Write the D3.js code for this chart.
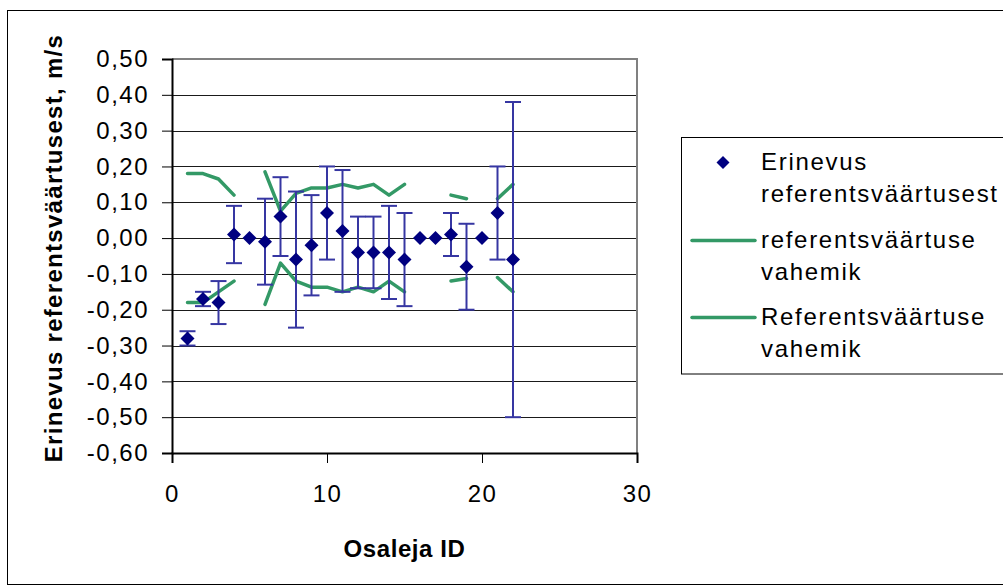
<!DOCTYPE html>
<html>
<head>
<meta charset="utf-8">
<script src="https://cdn.jsdelivr.net/npm/d3@7"></script>
<style>
  body { margin: 0; background: #fff; }
  svg { display: block; font-family: Arial, "Liberation Sans", sans-serif; }
</style>
</head>
<body>
<div id="chart-container"></div>
<script>
// Chart data
const participantIds = [1, 2, 3, 4, 5, 6, 7, 8, 9, 10, 11, 12, 13, 14, 15, 16, 17, 18, 19, 20, 21, 22];
const differences = [-0.28, -0.17, -0.18, 0.01, 0.00, -0.01, 0.06, -0.06, -0.02, 0.07, 0.02, -0.04, -0.04, -0.04, -0.06, 0.00, 0.00, 0.01, -0.08, 0.00, 0.07, -0.06];
const uncertainties = [0.02, 0.02, 0.06, 0.08, 0, 0.12, 0.11, 0.19, 0.14, 0.13, 0.17, 0.10, 0.10, 0.13, 0.13, 0, 0, 0.06, 0.12, 0, 0.13, 0.44];
const upperRange = [0.18, 0.18, 0.165, 0.12, null, 0.185, 0.075, 0.125, 0.14, 0.14, 0.15, 0.14, 0.15, 0.12, 0.15, null, null, 0.12, 0.11, null, 0.11, 0.15];
const lowerRange = [-0.18, -0.18, -0.15, -0.12, null, -0.185, -0.07, -0.12, -0.137, -0.137, -0.15, -0.137, -0.15, -0.12, -0.15, null, null, -0.12, -0.113, null, -0.11, -0.15];
const yTicks = [0.5, 0.4, 0.3, 0.2, 0.1, 0, -0.1, -0.2, -0.3, -0.4, -0.5, -0.6];
const xTicks = [0, 10, 20, 30];
const legendLabels = [
  ["Erinevus", "referentsväärtusest"],
  ["referentsväärtuse", "vahemik"],
  ["Referentsväärtuse", "vahemik"]
];

document.addEventListener('DOMContentLoaded', function() {
  const width = 1003;
  const height = 588;

  const markerColor = "#000080";
  const errorColor = "#3636a2";
  const rangeColor = "#339966";

  // Estonian number format: comma decimal, plain hyphen minus
  const locale = d3.formatLocale({ decimal: ",", thousands: " ", grouping: [3], currency: ["", ""], minus: "-" });
  const fmt = locale.format(".2f");

  const svg = d3.select('#chart-container')
    .append('svg')
    .attr('width', width)
    .attr('height', height);

  // outer chart border
  svg.append('rect')
    .attr('x', 7.5).attr('y', 10.5)
    .attr('width', 1010).attr('height', 574)
    .attr('fill', 'none')
    .attr('stroke', '#000');

  const x = d3.scaleLinear().domain([0, 30]).range([172, 637]);
  const y = d3.scaleLinear().domain([-0.6, 0.5]).range([453, 59]);

  // gridlines
  svg.append('g')
    .selectAll('line')
    .data(yTicks.filter(t => t > -0.6 && t < 0.5))
    .enter()
    .append('line')
    .attr('x1', x(0)).attr('x2', x(30))
    .attr('y1', d => Math.round(y(d)) + 0.5)
    .attr('y2', d => Math.round(y(d)) + 0.5)
    .attr('stroke', '#1a1a1a')
    .attr('stroke-width', 1);

  // plot area border (top and right are grey)
  svg.append('path')
    .attr('d', `M${x(0)},${y(0.5)}H${x(30)}V${y(-0.6)}`)
    .attr('fill', 'none')
    .attr('stroke', '#808080')
    .attr('stroke-width', 2);

  // y axis
  const yAxis = svg.append('g')
    .attr('transform', `translate(${x(0)},0)`)
    .call(d3.axisLeft(y).tickValues(yTicks).tickFormat(fmt).tickSize(10).tickPadding(13));
  yAxis.select('.domain').attr('stroke-width', 2);

  // x axis
  const xAxis = svg.append('g')
    .attr('transform', `translate(0,${y(-0.6)})`)
    .call(d3.axisBottom(x).tickValues(xTicks).tickFormat(d3.format('d')).tickSize(10).tickPadding(22));
  xAxis.select('.domain').attr('stroke-width', 2);

  svg.selectAll('.tick text')
    .attr('font-size', '24px')
    .attr('font-family', 'Arial, "Liberation Sans", sans-serif')
    .attr('letter-spacing', '1.5px')
    .attr('fill', '#000');
  svg.selectAll('.tick line').attr('stroke', '#000');

  // axis titles
  svg.append('text')
    .attr('transform', `translate(62,248) rotate(-90)`)
    .attr('text-anchor', 'middle')
    .attr('font-size', '24px')
    .attr('font-weight', 'bold')
    .attr('letter-spacing', '1.3px')
    .text('Erinevus referentsväärtusest, m/s');

  svg.append('text')
    .attr('x', (x(0) + x(30)) / 2)
    .attr('y', 557)
    .attr('text-anchor', 'middle')
    .attr('font-size', '24px')
    .attr('font-weight', 'bold')
    .attr('letter-spacing', '0.6px')
    .text('Osaleja ID');

  // reference range lines (broken where values are missing)
  const rangeLine = d3.line()
    .defined(d => d.v !== null)
    .x(d => x(d.id))
    .y(d => y(d.v));

  [upperRange, lowerRange].forEach(series => {
    svg.append('path')
      .datum(participantIds.map((id, i) => ({ id: id, v: series[i] })))
      .attr('d', rangeLine)
      .attr('fill', 'none')
      .attr('stroke', rangeColor)
      .attr('stroke-width', 3.5)
      .attr('stroke-linecap', 'round')
      .attr('stroke-linejoin', 'round');
  });

  // error bars
  const points = participantIds.map((id, i) => ({ id: id, v: differences[i], e: uncertainties[i] }));
  const bars = svg.append('g')
    .selectAll('g')
    .data(points.filter(d => d.e > 0))
    .enter()
    .append('g')
    .attr('stroke', errorColor)
    .attr('stroke-width', 2);

  bars.append('line')
    .attr('x1', d => x(d.id)).attr('x2', d => x(d.id))
    .attr('y1', d => y(d.v + d.e)).attr('y2', d => y(d.v - d.e));
  bars.append('line')
    .attr('x1', d => x(d.id) - 8).attr('x2', d => x(d.id) + 8)
    .attr('y1', d => y(d.v + d.e)).attr('y2', d => y(d.v + d.e));
  bars.append('line')
    .attr('x1', d => x(d.id) - 8).attr('x2', d => x(d.id) + 8)
    .attr('y1', d => y(d.v - d.e)).attr('y2', d => y(d.v - d.e));

  // diamond markers
  const diamond = 'M0,-7L7,0L0,7L-7,0Z';
  svg.append('g')
    .selectAll('path')
    .data(points)
    .enter()
    .append('path')
    .attr('d', diamond)
    .attr('transform', d => `translate(${x(d.id)},${y(d.v)})`)
    .attr('fill', markerColor);

  // legend
  const legend = svg.append('g');
  legend.append('rect')
    .attr('x', 681.5).attr('y', 137.5)
    .attr('width', 340).attr('height', 236.5)
    .attr('fill', '#fff')
    .attr('stroke', '#000');

  const rowTops = [170, 248, 325];
  legendLabels.forEach((lines, i) => {
    const base = rowTops[i];
    if (i === 0) {
      legend.append('path')
        .attr('d', 'M0,-6.5L6.5,0L0,6.5L-6.5,0Z')
        .attr('transform', `translate(723,${base - 7.5})`)
        .attr('fill', markerColor);
    } else {
      legend.append('line')
        .attr('x1', 692).attr('x2', 755)
        .attr('y1', base - 7.5).attr('y2', base - 7.5)
        .attr('stroke', rangeColor)
        .attr('stroke-width', 3.5)
        .attr('stroke-linecap', 'round');
    }
    lines.forEach((txt, j) => {
      legend.append('text')
        .attr('x', 761)
        .attr('y', base + j * 31.7)
        .attr('font-size', '24px')
        .attr('letter-spacing', '1.7px')
        .text(txt);
    });
  });

  console.log("Chart drawn");
});
</script>
</body>
</html>
